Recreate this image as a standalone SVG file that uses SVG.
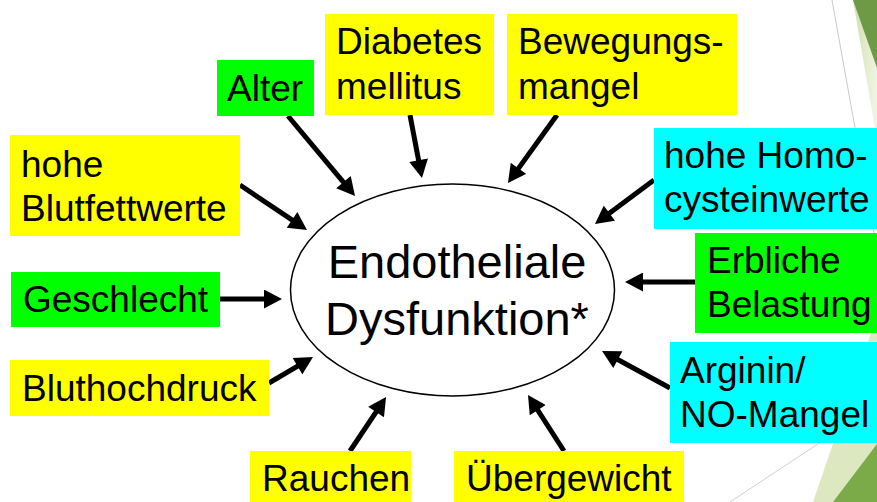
<svg xmlns="http://www.w3.org/2000/svg" width="877" height="502" viewBox="0 0 877 502">
<defs>
<style>
.t{font-family:"Liberation Sans",Arial,sans-serif;font-size:37px;fill:#000}
.big{font-family:"Liberation Sans",Arial,sans-serif;font-size:47px;fill:#000;text-anchor:middle}
.y{fill:#ffff00}.g{fill:#00ff00}.c{fill:#00ffff}
.ar{stroke:#000;stroke-width:5;fill:none;marker-end:url(#ah)}
</style>
<marker id="ah" markerUnits="userSpaceOnUse" markerWidth="19" markerHeight="19" viewBox="0 0 18 19" refX="8" refY="9.5" orient="auto">
<path d="M0,0 L18,9.5 L0,19 z" fill="#000"/>
</marker>
<linearGradient id="lg" x1="0" y1="0" x2="1" y2="0.3">
<stop offset="0" stop-color="#cfdfae"/>
<stop offset="1" stop-color="#eef4e0"/>
</linearGradient>
</defs>
<rect width="877" height="502" fill="#fff"/>
<g id="background">
<polygon points="853,0 877,0 877,140" fill="url(#lg)"/>
<polygon points="853,0 877,0 877,68" fill="#6f9a45"/>
<line x1="832" y1="0" x2="877" y2="250" stroke="#c8c8c8" stroke-width="1"/>
<polygon points="872,330 877,330 877,502 813,502" fill="#dde8c0"/>
<polygon points="877,444 877,502 833,502" fill="#7aab48"/>
<line x1="730" y1="502" x2="877" y2="405" stroke="#d0d0d0" stroke-width="1"/>
</g>
<g id="connectors">
<path class="ar" d="M288,116 L348.6,188.3"/>
<path class="ar" d="M410,115 L420.1,168.2"/>
<path class="ar" d="M557,115 L513.8,174.9"/>
<path class="ar" d="M240,185 L298.7,224.4"/>
<path class="ar" d="M654,180 L603,218"/>
<path class="ar" d="M695,282 L635,282"/>
<path class="ar" d="M220,299 L272,299"/>
<path class="ar" d="M269,383 L304.4,362.1"/>
<path class="ar" d="M350,451 L380.5,405.3"/>
<path class="ar" d="M564,451 L533.4,403.4"/>
<path class="ar" d="M670,388 L610.8,355.8"/>
</g>
<g id="center">
<ellipse cx="452.5" cy="290" rx="162" ry="106" fill="#fff" stroke="#000" stroke-width="1.5"/>
<text class="big" x="457" y="278">Endotheliale</text>
<text class="big" x="457" y="335">Dysfunktion*</text>
</g>
<g id="alter"><rect class="g" x="217" y="60" width="97" height="56"/><text class="t" x="227" y="101">Alter</text></g>
<g id="diabetes"><rect class="y" x="325" y="14" width="169" height="101"/><text class="t" x="336" y="54">Diabetes</text><text class="t" x="336" y="99">mellitus</text></g>
<g id="bewegung"><rect class="y" x="507" y="14" width="230" height="101"/><text class="t" x="518" y="54">Bewegungs-</text><text class="t" x="518" y="99">mangel</text></g>
<g id="blutfett"><rect class="y" x="10" y="135" width="230" height="101"/><text class="t" x="21" y="177">hohe</text><text class="t" x="21" y="221">Blutfettwerte</text></g>
<g id="homocystein"><rect class="c" x="654" y="128" width="223" height="101"/><text class="t" x="664" y="168">hohe Homo-</text><text class="t" x="664" y="212">cysteinwerte</text></g>
<g id="erblich"><rect class="g" x="695" y="233" width="182" height="100"/><text class="t" x="707" y="273">Erbliche</text><text class="t" x="707" y="317">Belastung</text></g>
<g id="geschlecht"><rect class="g" x="11" y="272" width="209" height="55"/><text class="t" x="23" y="312">Geschlecht</text></g>
<g id="bluthochdruck"><rect class="y" x="10" y="360" width="259" height="56"/><text class="t" x="22" y="401">Bluthochdruck</text></g>
<g id="arginin"><rect class="c" x="670" y="342" width="207" height="101"/><text class="t" x="680" y="383">Arginin/</text><text class="t" x="680" y="427">NO-Mangel</text></g>
<g id="rauchen"><rect class="y" x="250" y="451" width="161" height="51"/><text class="t" x="262" y="491">Rauchen</text></g>
<g id="uebergewicht"><rect class="y" x="454" y="451" width="230" height="51"/><text class="t" x="466" y="491">Übergewicht</text></g>
</svg>
